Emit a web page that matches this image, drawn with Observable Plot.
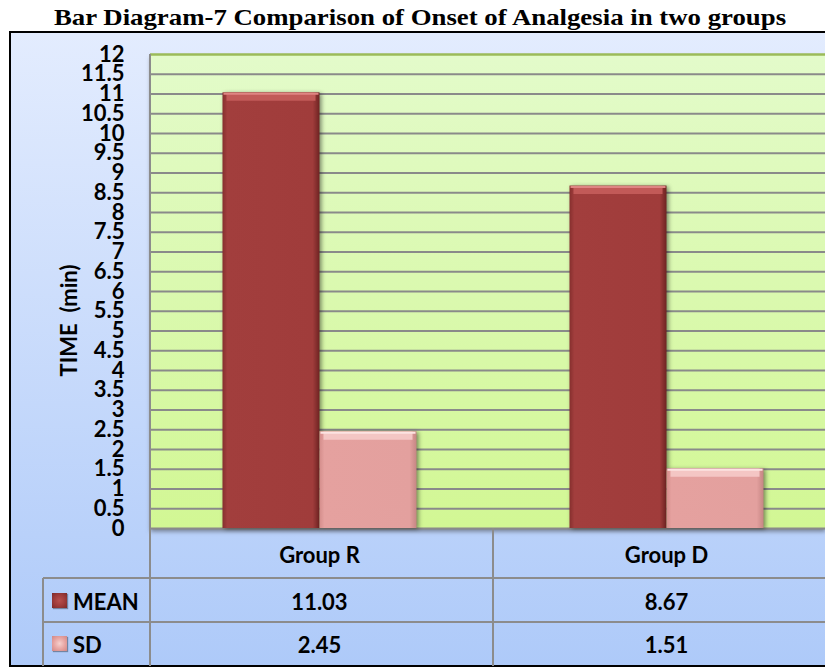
<!DOCTYPE html>
<html>
<head>
<meta charset="utf-8">
<script src="https://cdn.jsdelivr.net/npm/d3@7"></script>
<script src="https://cdn.jsdelivr.net/npm/@observablehq/plot@0.6"></script>
<style>
  html, body { margin: 0; padding: 0; background: #fff; }
  #wrap { position: relative; width: 825px; height: 668px; overflow: hidden; font-family: Lato, "Open Sans", sans-serif; }
  #title { position: absolute; left: 420px; top: 6px; transform: translateX(-50%) scaleX(1.165); transform-origin: 50% 50%;
           font: bold 23px/23px "Liberation Serif", "Times New Roman", serif; color: #000; white-space: nowrap; }
  #box { position: absolute; left: 9px; top: 31px; width: 900px; height: 632px;
         border: 2px solid #000; background: linear-gradient(#e3ecfe, #aecaf9); }
  #plot { position: absolute; left: 0; top: 0; }
  #table { position: absolute; left: 0; top: 0; width: 825px; height: 668px; pointer-events: none; }
  .ln { position: absolute; background: #8c8c8c; }
  .cell { position: absolute; font: bold 22px Lato, sans-serif; color: #000; text-align: center; transform: translate(-50%, -50%); white-space: nowrap; }
  .key { position: absolute; width: 15px; height: 15px; }
  .lab { position: absolute; font: bold 22px Lato, sans-serif; color: #000; transform: translateY(-50%); white-space: nowrap; }
</style>
</head>
<body>
<div id="wrap">
  <div id="box"></div>
  <div id="title"></div>
  <div id="plot"></div>
  <div id="table"></div>
</div>
<script>
// ---- data ----
const groups = ["Group R", "Group D"];
const seriesNames = ["MEAN", "SD"];
const meanValues = [11.03, 8.67];
const sdValues = [2.45, 1.51];
const yTicks = [0, 0.5, 1, 1.5, 2, 2.5, 3, 3.5, 4, 4.5, 5, 5.5, 6, 6.5, 7, 7.5, 8, 8.5, 9, 9.5, 10, 10.5, 11, 11.5, 12];
const yLabel = "TIME  (min)";
const title = "Bar Diagram-7 Comparison of Onset of Analgesia in two groups";

document.getElementById("title").textContent = title;

const data = groups.map((g, i) => ({group: g, mean: meanValues[i], sd: sdValues[i]}));

// ---- layout constants ----
const W = 825, H = 668;
const mL = 150, mT = 54, mB = H - 528;
const xRange = [146, 840];
const bw = (xRange[1] - xRange[0]) / groups.length;
const barW = 97;

const insetsMean = {insetLeft: bw / 2 - barW, insetRight: bw / 2};
const insetsSd = {insetLeft: bw / 2, insetRight: bw / 2 - barW};

const fontStack = "Lato, 'Open Sans', sans-serif";

const plot = Plot.plot({
  width: W,
  height: H,
  marginLeft: mL,
  marginRight: 0,
  marginTop: mT,
  marginBottom: mB,
  style: {background: "transparent", fontFamily: fontStack, fontSize: "22px", fontWeight: "bold", color: "#000", whiteSpace: "pre", overflow: "visible"},
  x: {domain: groups, range: xRange, padding: 0, axis: null},
  y: {domain: [0, 12], axis: null},
  marks: [
    Plot.frame({fill: "url(#plotBg)", stroke: "none"}),
    Plot.ruleY(yTicks.filter(v => v > 0 && v < 12), {stroke: "#8a8a8a", strokeWidth: 2}),
    Plot.ruleY(yTicks.filter(v => v === 12), {stroke: "#9bbb59", strokeWidth: 2.5}),
    Plot.ruleY(yTicks.filter(v => v === 0), {stroke: "#8a8a8a", strokeWidth: 2}),
    Plot.barY(data, {x: "group", y: "mean", fill: "url(#meanGrad)", ...insetsMean}),
    Plot.tickY(data, {x: "group", y: "mean", stroke: "#c25a58", strokeWidth: 8, dy: 4, insetLeft: insetsMean.insetLeft + 4, insetRight: insetsMean.insetRight + 4}),
    Plot.tickY(data, {x: "group", y: "mean", stroke: "#df8583", strokeWidth: 2, dy: 1, insetLeft: insetsMean.insetLeft + 1, insetRight: insetsMean.insetRight + 1}),
    Plot.barY(data, {x: "group", y: "sd", fill: "url(#sdGrad)", ...insetsSd}),
    Plot.tickY(data, {x: "group", y: "sd", stroke: "#f4c6c4", strokeWidth: 8, dy: 4, insetLeft: insetsSd.insetLeft + 4, insetRight: insetsSd.insetRight + 4}),
    Plot.tickY(data, {x: "group", y: "sd", stroke: "#fde3e2", strokeWidth: 2, dy: 1, insetLeft: insetsSd.insetLeft + 1, insetRight: insetsSd.insetRight + 1}),
    Plot.axisY(yTicks, {tickSize: 0, tickPadding: 26, tickFormat: d => String(d), fontSize: 22, fontWeight: "bold", fill: "#000"}),
    Plot.text([yLabel], {frameAnchor: "left", textAnchor: "middle", lineAnchor: "middle", dx: -81, dy: 29, rotate: -90, fontSize: 22, fontWeight: "bold", fill: "#000"})
  ]
});

// gradients
const defs = document.createElementNS("http://www.w3.org/2000/svg", "defs");
defs.innerHTML = `
  <linearGradient id="plotBg" x1="0" y1="0" x2="0" y2="1">
    <stop offset="0" stop-color="#e3fbca"/>
    <stop offset="1" stop-color="#d2f794"/>
  </linearGradient>
  <linearGradient id="meanGrad" x1="0" y1="0" x2="1" y2="0">
    <stop offset="0" stop-color="#862f2e"/>
    <stop offset="0.05" stop-color="#a23e3d"/>
    <stop offset="0.93" stop-color="#a03c3b"/>
    <stop offset="1" stop-color="#6e2322"/>
  </linearGradient>
  <linearGradient id="sdGrad" x1="0" y1="0" x2="1" y2="0">
    <stop offset="0" stop-color="#d48d8b"/>
    <stop offset="0.05" stop-color="#e5a19f"/>
    <stop offset="0.93" stop-color="#e3a09e"/>
    <stop offset="1" stop-color="#c68684"/>
  </linearGradient>`;
plot.insertBefore(defs, plot.firstChild);

const frameEl = plot.querySelector('[aria-label="frame"]');
if (frameEl) frameEl.style.filter = "drop-shadow(0px 3px 2px rgba(60,60,60,0.55))";
plot.querySelectorAll('[aria-label="bar"]').forEach(g => g.style.filter = "drop-shadow(2px 1px 2px rgba(0,0,0,0.45))");

document.getElementById("plot").appendChild(plot);

// ---- table under the plot, positioned from the plot's own x scale ----
const xs = plot.scale("x");
const tbl = document.getElementById("table");
function line(x, y, w, h) {
  const d = document.createElement("div");
  d.className = "ln";
  Object.assign(d.style, {left: x + "px", top: y + "px", width: w + "px", height: h + "px"});
  tbl.appendChild(d);
}
const plotBottom = 528, row1 = 578, row2 = 622, bottom = 666;
const leftCol = 43;
line(mL - 1, mT, 2, bottom - mT);                     // left edge of plot / table
groups.slice(1).forEach(g => {
  const xb = Math.round(xs.apply(g));
  line(xb - 1, plotBottom, 2, bottom - plotBottom);
});
line(leftCol, row1 - 1, W - leftCol, 2);
line(leftCol, row2 - 1, W - leftCol, 2);
line(leftCol - 1, row1, 2, bottom - row1);

function cell(text, x, y) {
  const d = document.createElement("div");
  d.className = "cell";
  d.textContent = text;
  Object.assign(d.style, {left: x + "px", top: y + "px"});
  tbl.appendChild(d);
}
const rowsY = [(plotBottom + row1) / 2 + 1, (row1 + row2) / 2 + 1, (row2 + bottom) / 2];
groups.forEach((g, i) => {
  const cx = xs.apply(g) + xs.bandwidth / 2;
  cell(g, cx, rowsY[0]);
  cell(meanValues[i].toFixed(2), cx, rowsY[1]);
  cell(sdValues[i].toFixed(2), cx, rowsY[2]);
});
const keyFills = [
  "radial-gradient(circle at 50% 50%, #b84f4d 0%, #9d3a39 55%, #7a2a29 100%)",
  "radial-gradient(circle at 50% 50%, #f6d0ce 0%, #e6a3a1 55%, #d08886 100%)"
];
seriesNames.forEach((s, i) => {
  const yc = rowsY[i + 1];
  const k = document.createElement("div");
  k.className = "key";
  Object.assign(k.style, {left: "52px", top: (yc - 8) + "px", background: keyFills[i], boxShadow: "1px 1px 1px rgba(0,0,0,0.35)"});
  tbl.appendChild(k);
  const l = document.createElement("div");
  l.className = "lab";
  l.textContent = s;
  Object.assign(l.style, {left: "73px", top: yc + "px"});
  tbl.appendChild(l);
});
</script>
</body>
</html>
